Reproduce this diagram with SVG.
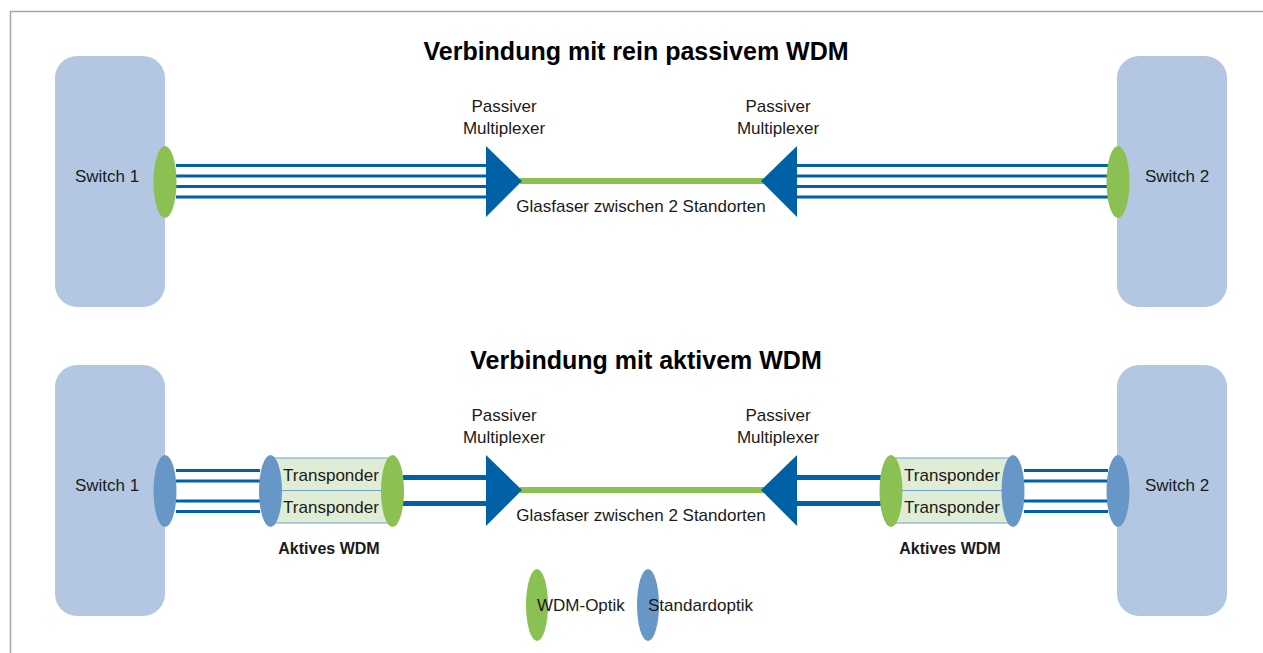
<svg xmlns="http://www.w3.org/2000/svg" width="1263" height="653" viewBox="0 0 1263 653">
<style>
.sw{fill:#b3c7e2}
.g{fill:#8bc152}
.b{fill:#6697c7}
.mux{fill:#0061a6}
.thin{stroke:#0061a6;stroke-width:3;fill:none}
.thick{stroke:#0061a6;stroke-width:5;fill:none}
.fib{stroke:#8bc152;stroke-width:6;fill:none}
.tr{fill:#e0edd5;stroke:#6a9fd0;stroke-width:1}
text{font-family:"Liberation Sans",Arial,sans-serif;fill:#1a1a1a}
.t{font-size:17px}
.c{text-anchor:middle}
.h{font-size:25px;font-weight:bold;fill:#000}
.bl{font-size:16px;font-weight:bold}
</style>
<rect width="1263" height="653" fill="#fff"/>
<path d="M10.5 653 V11.5 H1263" fill="none" stroke="#a6a6a6" stroke-width="1.5"/>

<text class="h c" x="636" y="60">Verbindung mit rein passivem WDM</text>
<text class="h c" x="646" y="369">Verbindung mit aktivem WDM</text>

<g id="connectors">
  <!-- top -->
  <path class="thin" d="M176 165.5H487M176 176H487M176 186.5H487M176 197H487"/>
  <path class="thin" d="M797 165.5H1108M797 176H1108M797 186.5H1108M797 197H1108"/>
  <path class="fib" d="M520 181H764"/>
  <!-- bottom -->
  <path class="thin" d="M176 470.5H260M176 481H260M176 501H260M176 511.5H260"/>
  <path class="thick" d="M403 477.5H487M403 503.5H487"/>
  <path class="fib" d="M520 490H764"/>
  <path class="thick" d="M797 477.5H881M797 503.5H881"/>
  <path class="thin" d="M1024 470.5H1108M1024 481H1108M1024 501H1108M1024 511.5H1108"/>
</g>

<g id="switch1-top">
  <rect class="sw" x="55" y="56" width="110" height="251" rx="22"/>
  <text class="t c" x="107" y="182">Switch 1</text>
  <ellipse class="g" cx="165" cy="182" rx="11.5" ry="36"/>
</g>
<g id="switch2-top">
  <rect class="sw" x="1117" y="56" width="110" height="251" rx="22"/>
  <text class="t c" x="1177" y="182">Switch 2</text>
  <ellipse class="g" cx="1118" cy="182" rx="11.5" ry="36"/>
</g>
<g id="mux1-top">
  <polygon class="mux" points="486,146 522,181 486,217"/>
  <text class="t c" x="504" y="112">Passiver</text>
  <text class="t c" x="504" y="134">Multiplexer</text>
</g>
<g id="mux2-top">
  <polygon class="mux" points="797,146 761,181 797,217"/>
  <text class="t c" x="778" y="112">Passiver</text>
  <text class="t c" x="778" y="134">Multiplexer</text>
</g>
<text class="t c" x="641" y="212">Glasfaser zwischen 2 Standorten</text>

<g id="switch1-bottom">
  <rect class="sw" x="55" y="365" width="110" height="251" rx="22"/>
  <text class="t c" x="107" y="491">Switch 1</text>
  <ellipse class="b" cx="165" cy="491" rx="11.5" ry="36"/>
</g>
<g id="switch2-bottom">
  <rect class="sw" x="1117" y="365" width="110" height="251" rx="22"/>
  <text class="t c" x="1177" y="491">Switch 2</text>
  <ellipse class="b" cx="1118" cy="491" rx="11.5" ry="36"/>
</g>
<g id="wdm1">
  <rect class="tr" x="270" y="458" width="122" height="32.5"/>
  <rect class="tr" x="270" y="490.5" width="122" height="32.5"/>
  <ellipse class="b" cx="270.5" cy="491" rx="11.5" ry="36"/>
  <ellipse class="g" cx="392.5" cy="491" rx="11.5" ry="36"/>
  <text class="t c" x="331" y="481">Transponder</text>
  <text class="t c" x="331" y="513">Transponder</text>
  <text class="bl c" x="329" y="554">Aktives WDM</text>
</g>
<g id="wdm2">
  <rect class="tr" x="891" y="458" width="122" height="32.5"/>
  <rect class="tr" x="891" y="490.5" width="122" height="32.5"/>
  <ellipse class="g" cx="891" cy="491" rx="11.5" ry="36"/>
  <ellipse class="b" cx="1013" cy="491" rx="11.5" ry="36"/>
  <text class="t c" x="952" y="481">Transponder</text>
  <text class="t c" x="952" y="513">Transponder</text>
  <text class="bl c" x="950" y="554">Aktives WDM</text>
</g>
<g id="mux1-bottom">
  <polygon class="mux" points="486,455 522,490 486,526"/>
  <text class="t c" x="504" y="421">Passiver</text>
  <text class="t c" x="504" y="443">Multiplexer</text>
</g>
<g id="mux2-bottom">
  <polygon class="mux" points="797,455 761,490 797,526"/>
  <text class="t c" x="778" y="421">Passiver</text>
  <text class="t c" x="778" y="443">Multiplexer</text>
</g>
<text class="t c" x="641" y="521">Glasfaser zwischen 2 Standorten</text>

<g id="legend">
  <ellipse class="g" cx="537" cy="605" rx="11" ry="36"/>
  <text class="t" x="537" y="611">WDM-Optik</text>
  <ellipse class="b" cx="648" cy="605" rx="11" ry="36"/>
  <text class="t" x="648" y="611">Standardoptik</text>
</g>
</svg>
